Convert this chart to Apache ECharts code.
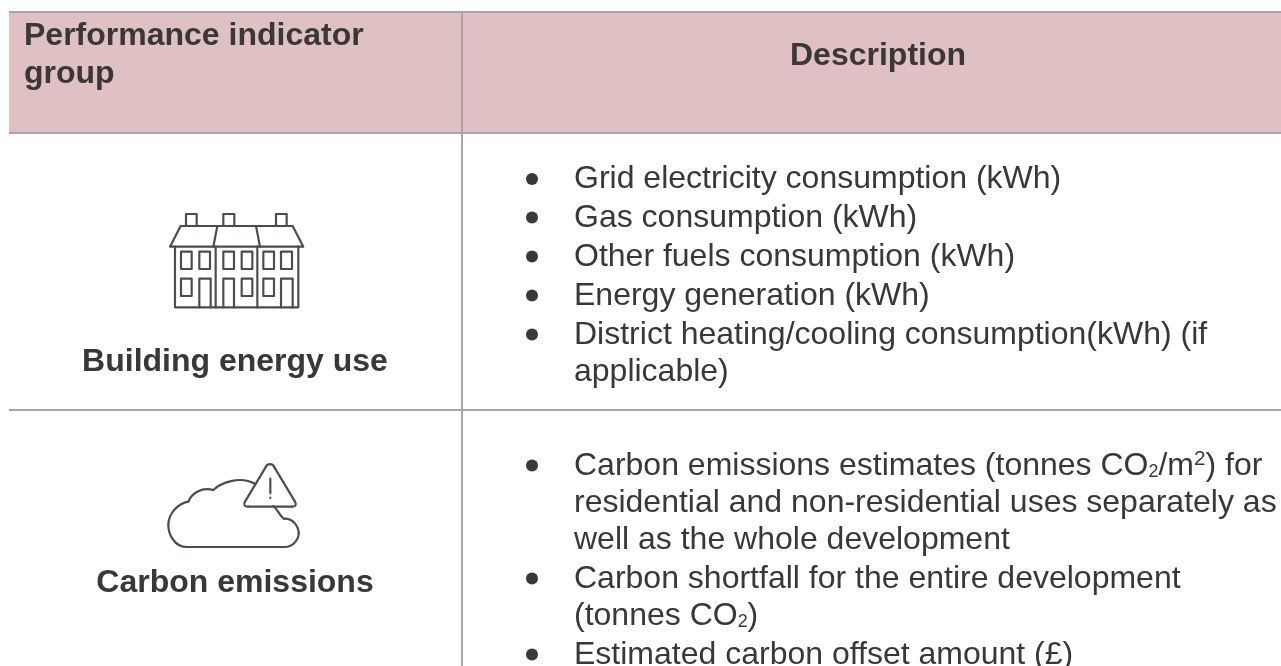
<!DOCTYPE html>
<html>
<head>
<meta charset="utf-8">
<style>
  html, body { margin: 0; padding: 0; background: #fff; }
  #chart { width: 1281px; height: 666px; }
</style>
</head>
<body>
<div id="chart"></div>
<script src="https://cdn.jsdelivr.net/npm/echarts@6/dist/echarts.min.js"></script>
<script>
// table text
var headerLeft = ['Performance indicator', 'group'];
var headerRight = 'Description';
var rowLabels = ['Building energy use', 'Carbon emissions'];
// each bullet is a list of lines, a line is a list of [text, kind]; kind n / sub / sup
var energyItems = [
  [[['Grid electricity consumption (kWh)', 'n']]],
  [[['Gas consumption (kWh)', 'n']]],
  [[['Other fuels consumption (kWh)', 'n']]],
  [[['Energy generation (kWh)', 'n']]],
  [[['District heating/cooling consumption(kWh) (if', 'n']], [['applicable)', 'n']]]
];
var carbonItems = [
  [[['Carbon emissions estimates (tonnes CO', 'n'], ['2', 'sub'], ['/m', 'n'], ['2', 'sup'], [') for', 'n']],
   [['residential and non-residential uses separately as', 'n']],
   [['well as the whole development', 'n']]],
  [[['Carbon shortfall for the entire development', 'n']],
   [['(tonnes CO', 'n'], ['2', 'sub'], [')', 'n']]],
  [[['Estimated carbon offset amount (£)', 'n']]]
];
var energyBaselines = [188.5, 227, 266, 305, 344, 381];
var carbonBaselines = [475, 512, 549, 588, 625, 664];

var font = '"Liberation Sans", Arial, sans-serif';
var textColor = '#383838';
var lineColor = '#a6a6a6';
var iconColor = '#484d52';
var fontSize = 32;

var measure = document.createElement('canvas').getContext('2d');

// zrender draws with a middle baseline, so shift from the alphabetic baseline
function textEl(str, x, base, size, weight, align) {
  return {
    type: 'text', x: x, y: base - size * 0.284,
    style: { text: str, fill: textColor, font: weight + ' ' + size + 'px ' + font, align: align, verticalAlign: 'middle' }
  };
}

function lineEls(parts, x, base) {
  var els = [];
  parts.forEach(function (p) {
    var size = p[1] === 'sub' ? fontSize * 0.56 : p[1] === 'sup' ? fontSize * 0.65 : fontSize;
    var y = p[1] === 'sub' ? base + 2 : p[1] === 'sup' ? base - 10 : base;
    els.push(textEl(p[0], x, y, size, 'normal', 'left'));
    measure.font = size + 'px ' + font;
    x += measure.measureText(p[0]).width;
  });
  return els;
}

function bulletEls(items, baselines) {
  var els = [];
  var n = 0;
  items.forEach(function (item) {
    els.push({
      type: 'circle',
      shape: { cx: 532, cy: baselines[n] - 9.5, r: 6 },
      style: { fill: textColor }
    });
    item.forEach(function (parts) {
      els = els.concat(lineEls(parts, 574, baselines[n]));
      n++;
    });
  });
  return els;
}

function hline(x1, x2, y) {
  return { type: 'line', shape: { x1: x1, y1: y, x2: x2, y2: y }, style: { stroke: lineColor, lineWidth: 2 } };
}

var iconStyle = { fill: null, stroke: iconColor, lineWidth: 6.5, lineJoin: 'round', lineCap: 'round' };

function poly(pts) {
  return { type: 'polyline', shape: { points: pts }, style: iconStyle };
}
function box(x1, y1, x2, y2) {
  return { type: 'rect', shape: { x: x1, y: y1, width: x2 - x1, height: y2 - y1 }, style: iconStyle };
}
function curve(a) {
  return { type: 'bezierCurve', shape: { x1: a[0], y1: a[1], cpx1: a[2], cpy1: a[3], cpx2: a[4], cpy2: a[5], x2: a[6], y2: a[7] }, style: iconStyle };
}

var houseLines = [
  [[198, 78], [198, 42], [230, 42], [230, 78]],
  [[310, 78], [310, 42], [343, 42], [343, 78]],
  [[468, 78], [468, 42], [500, 42], [500, 78]],
  [[182, 78], [518, 78], [550, 140], [150, 140], [182, 78]],
  [[292, 78], [280, 140]],
  [[408, 78], [420, 140]],
  [[165, 140], [165, 322], [535, 322], [535, 140]],
  [[287, 140], [287, 322]],
  [[412, 140], [412, 322]],
  [[238, 322], [238, 236], [272, 236], [272, 322]],
  [[310, 322], [310, 236], [342, 236], [342, 322]],
  [[483, 322], [483, 236], [518, 236], [518, 322]]
];
var houseWindows = [
  [183, 155, 215, 207], [238, 155, 270, 207], [310, 155, 342, 207],
  [365, 155, 397, 207], [430, 155, 462, 207], [483, 155, 516, 207],
  [183, 236, 215, 288], [365, 236, 397, 288], [430, 236, 462, 288]
];
var cloudCurves = [
  [460, 258, 475, 270, 480, 290, 492, 296],
  [492, 296, 520, 295, 536, 320, 536, 340],
  [536, 340, 536, 362, 515, 381, 495, 381],
  [200, 381, 165, 381, 145, 345, 145, 315],
  [145, 315, 145, 280, 175, 250, 205, 245],
  [205, 245, 215, 220, 245, 200, 280, 210],
  [280, 210, 300, 190, 360, 165, 405, 192],
  [438, 140, 442, 130, 458, 130, 462, 140],
  [525, 245, 530, 253, 528, 260, 515, 260],
  [385, 260, 372, 260, 370, 253, 375, 245]
];
var cloudLines = [
  [[495, 381], [200, 381]],
  [[462, 140], [525, 245]],
  [[515, 260], [385, 260]],
  [[375, 245], [438, 140]],
  [[451, 176], [451, 220]],
  [[451, 233], [451, 234]]
];

var elements = [
  { type: 'rect', shape: { x: 9, y: 12, width: 1272, height: 121 }, style: { fill: '#dfc1c3' } },
  hline(9, 1281, 12),
  hline(9, 1281, 133),
  hline(9, 1281, 410),
  { type: 'line', shape: { x1: 462, y1: 12, x2: 462, y2: 666 }, style: { stroke: lineColor, lineWidth: 2 } },
  textEl(headerLeft[0], 24, 45, fontSize, 'bold', 'left'),
  textEl(headerLeft[1], 24, 83, fontSize, 'bold', 'left'),
  textEl(headerRight, 878, 65, fontSize, 'bold', 'center'),
  textEl(rowLabels[0], 235, 371, fontSize, 'bold', 'center'),
  textEl(rowLabels[1], 235, 592, fontSize, 'bold', 'center'),
  { type: 'group', x: 120, y: 200, scaleX: 1 / 3, scaleY: 1 / 3, children: houseLines.map(poly).concat(houseWindows.map(function (w) { return box(w[0], w[1], w[2], w[3]); })) },
  { type: 'group', x: 120, y: 420, scaleX: 1 / 3, scaleY: 1 / 3, children: cloudCurves.map(curve).concat(cloudLines.map(poly)) }
].concat(bulletEls(energyItems, energyBaselines), bulletEls(carbonItems, carbonBaselines));

var chart = echarts.init(document.getElementById('chart'));
chart.setOption({
  animation: false,
  backgroundColor: '#fff',
  graphic: { elements: elements }
});
</script>
</body>
</html>
